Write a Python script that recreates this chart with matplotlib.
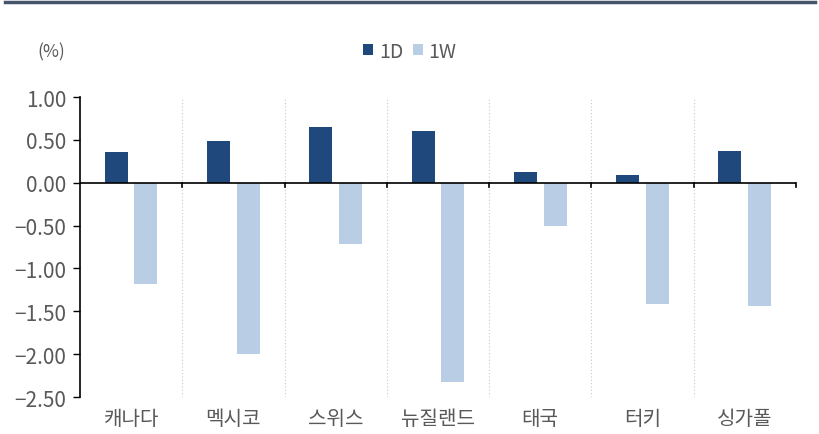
import matplotlib.pyplot as plt
from matplotlib.lines import Line2D
import numpy as np

plt.rcParams['font.family'] = ['Noto Sans CJK KR', 'DejaVu Sans']
plt.rcParams['font.weight'] = 'light'

countries = ['캐나다', '멕시코', '스위스', '뉴질랜드', '태국', '터키', '싱가폴']
d1 = [0.36, 0.49, 0.65, 0.60, 0.13, 0.09, 0.37]
w1 = [-1.18, -2.00, -0.71, -2.33, -0.51, -1.41, -1.44]
yticks = [1.0, 0.5, 0.0, -0.5, -1.0, -1.5, -2.0, -2.5]

c1 = '#1F497D'
c2 = '#B9CDE5'
txt = '#595959'

fig = plt.figure(figsize=(8.2, 4.35), dpi=100)
ax = fig.add_axes([0.0976, 0.085, 0.873, 0.6897])

x = np.arange(len(countries))
bw = 0.225
ax.bar(x - 0.145, d1, bw, color=c1, label='1D', zorder=3)
ax.bar(x + 0.145, w1, bw, color=c2, label='1W', zorder=3)

ax.set_xlim(-0.5, len(countries) - 0.5)
ax.set_ylim(-2.5, 1.0)
ax.set_yticks(yticks)
ax.set_yticklabels([('%.2f' % v).replace('-', '\u2212') for v in yticks])

# category separators
for b in np.arange(0.5, len(countries), 1.0):
    ax.axvline(b, color='#C8C8C8', lw=0.8, ls=(0, (1, 2)), zorder=1)
ax.axhline(0, color='black', lw=1.2, zorder=4)
for b in np.arange(0.5, len(countries), 1.0):
    ax.plot([b, b], [0, -0.05], color='black', lw=1.2, zorder=4, clip_on=False)

ax.set_xticks(x)
ax.set_xticklabels(countries)
ax.tick_params(axis='x', length=0, pad=8, labelsize=14.5, labelcolor=txt)
ax.tick_params(axis='y', length=5, width=1, direction='out', labelsize=15, labelcolor=txt, pad=5)

for s in ['top', 'right', 'bottom']:
    ax.spines[s].set_visible(False)
ax.spines['left'].set_color('black')
ax.spines['left'].set_linewidth(1.2)

fig.text(0.045, 0.88, '(%)', fontsize=12.5, color=txt, va='center')
fig.legend(loc='center', bbox_to_anchor=(0.5, 0.88), ncol=2, frameon=False,
           fontsize=14, handlelength=0.5, handleheight=0.5, handletextpad=0.3,
           columnspacing=0.5, labelcolor=txt)

fig.add_artist(Line2D([0.006, 0.994], [0.993, 0.993], color='#44546A', lw=2.5))

fig.savefig('out.png', dpi=100)
